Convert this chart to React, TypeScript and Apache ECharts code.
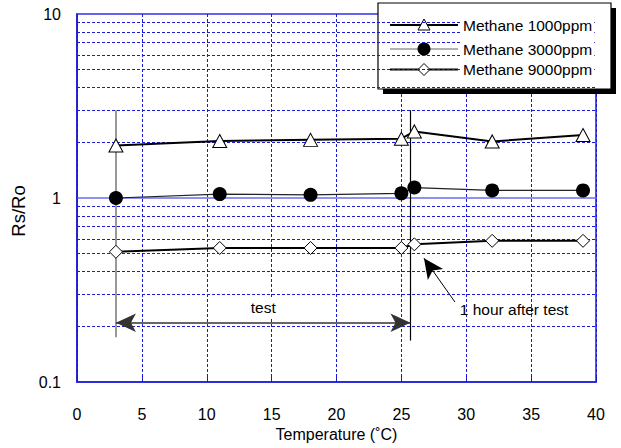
import React, { useEffect, useRef } from "react";
import * as echarts from "echarts";

const temps = [3, 11, 18, 25, 26, 32, 39];
const methane1000 = [1.93, 2.04, 2.07, 2.1, 2.3, 2.03, 2.2];
const methane3000 = [1.0, 1.05, 1.04, 1.06, 1.14, 1.1, 1.1];
const methane9000 = [0.51, 0.535, 0.535, 0.535, 0.56, 0.585, 0.585];
const seriesNames = ["Methane 1000ppm", "Methane 3000ppm", "Methane 9000ppm"];
const minorGridValues = [0.2, 0.3, 0.4, 0.5, 0.6, 0.7, 0.8, 0.9, 2, 3, 4, 5, 6, 7, 8, 9];
const yTickLabels: Record<string, string> = { "0.1": "0.1", "1": "1", "10": "10" };

const FONT = "'Liberation Sans', Arial, sans-serif";
const BLUE = "#1a1ad6";

function legendGraphics() {
  const rows = [25, 49, 69.5];
  const lx = 390;
  const lw = 68;
  const cx = 424;
  const els: any[] = [
    { type: "rect", z: 3, silent: true, shape: { x: 383, y: 8, width: 233, height: 86 }, style: { fill: "#000" } },
    {
      type: "rect",
      z: 3,
      silent: true,
      shape: { x: 378, y: 3, width: 233, height: 86 },
      style: { fill: "#fff", stroke: "#000", lineWidth: 1.2 },
    },
  ];
  const lineFills = ["#000", "#666", "#000"];
  const lineHeights = [2, 1.2, 2];
  rows.forEach((y, i) => {
    els.push({
      type: "rect",
      z: 4,
      silent: true,
      shape: { x: lx, y: y - lineHeights[i] / 2, width: lw, height: lineHeights[i] },
      style: { fill: lineFills[i] },
    });
    if (i === 0) {
      els.push({
        type: "polygon",
        z: 5,
        silent: true,
        shape: { points: [[cx, y - 6], [cx + 6, y + 5], [cx - 6, y + 5]] },
        style: { fill: "#fff", stroke: "#000", lineWidth: 1 },
      });
    } else if (i === 1) {
      els.push({ type: "circle", z: 5, silent: true, shape: { cx, cy: y, r: 6.5 }, style: { fill: "#000" } });
    } else {
      els.push({
        type: "polygon",
        z: 5,
        silent: true,
        shape: { points: [[cx, y - 6], [cx + 6, y], [cx, y + 6], [cx - 6, y]] },
        style: { fill: "#fff", stroke: "#000", lineWidth: 1 },
      });
    }
    els.push({
      type: "text",
      z: 10,
      silent: true,
      x: 462,
      y: y - 9,
      style: {
        text: seriesNames[i],
        fill: "#000",
        fontSize: 15.5,
        fontFamily: FONT,
        backgroundColor: "#fff",
        padding: [1, 2, 1, 1],
        verticalAlign: "top",
        align: "left",
      },
    });
  });
  return els;
}

export default function App() {
  const ref = useRef<HTMLDivElement>(null);
  useEffect(() => {
    if (!ref.current) return;
    const chart = echarts.init(ref.current, undefined, { renderer: "svg" });
    const pts = (vals: number[]) => temps.map((t, i) => [t, vals[i]]);
    chart.setOption({
      animation: false,
      backgroundColor: "#fff",
      textStyle: { fontFamily: FONT },
      grid: {
        left: 77,
        right: 25,
        top: 14,
        bottom: 66,
        show: true,
        borderColor: BLUE,
        borderWidth: 1.5,
        backgroundColor: "transparent",
      },
      graphic: legendGraphics(),
      xAxis: {
        type: "value",
        min: 0,
        max: 40,
        interval: 5,
        name: "Temperature (˚C)",
        nameLocation: "middle",
        nameGap: 42,
        nameTextStyle: { fontSize: 16, color: "#000", fontFamily: FONT },
        axisLine: { show: true, lineStyle: { color: BLUE, width: 1.5 } },
        axisTick: { show: true, inside: true, length: 5, lineStyle: { color: BLUE } },
        axisLabel: { fontSize: 16, color: "#000", margin: 24, fontFamily: FONT },
        splitLine: { show: true, lineStyle: { color: BLUE, type: [3, 2], width: 1 } },
      },
      yAxis: {
        type: "log",
        logBase: 10,
        min: 0.1,
        max: 10,
        name: "Rs/Ro",
        nameLocation: "middle",
        nameGap: 45,
        nameTextStyle: { fontSize: 18.5, color: "#000", fontFamily: FONT, padding: [0, 26, 0, 0] },
        axisLine: { show: true, lineStyle: { color: BLUE, width: 1.5 } },
        axisTick: { show: false },
        axisLabel: {
          fontSize: 16,
          color: "#000",
          margin: 16,
          fontFamily: FONT,
          formatter: (v: number) => yTickLabels[String(Math.round(v * 1000) / 1000)] ?? String(v),
        },
        splitLine: { show: true, lineStyle: { color: "#6b6bf0", width: 1.5 } },
      },
      series: [
        {
          name: "grid",
          type: "line",
          data: [],
          z: 1,
          silent: true,
          markLine: {
            silent: true,
            symbol: ["none", "none"],
            label: { show: false },
            lineStyle: { color: BLUE, type: [3, 2], width: 1 },
            emphasis: { disabled: true },
            data: minorGridValues.map((v) => ({ yAxis: v })),
          },
        },
        {
          name: "annotations",
          type: "line",
          data: [],
          z: 3,
          silent: true,
          markLine: {
            silent: true,
            symbol: ["none", "none"],
            symbolSize: [14, 20],
            label: { show: false },
            emphasis: { disabled: true },
            data: [
              [
                { coord: [3, 3], lineStyle: { color: "#777", width: 1.5, type: "solid" } },
                { coord: [3, 0.175] },
              ],
              [
                { coord: [25.7, 3], lineStyle: { color: "#000", width: 1.2, type: "solid" } },
                { coord: [25.7, 0.168] },
              ],
              [
                {
                  coord: [3, 0.21],
                  symbol: "arrow",
                  symbolSize: [14, 20],
                  lineStyle: { color: "#333", width: 1.5, type: "solid" },
                  label: {
                    show: true,
                    position: "middle",
                    formatter: "test",
                    backgroundColor: "#fff",
                    padding: [2, 11],
                    color: "#000",
                    fontSize: 15.5,
                    fontFamily: FONT,
                  },
                },
                { coord: [25.7, 0.21], symbol: "arrow", symbolSize: [14, 20] },
              ],
              [
                {
                  coord: [29.13, 0.272],
                  symbol: "none",
                  lineStyle: { color: "#000", width: 1, type: "solid" },
                },
                { coord: [26.74, 0.471], symbol: "arrow", symbolSize: [14, 20] },
              ],
            ],
          },
          markPoint: {
            silent: true,
            symbol: "circle",
            symbolSize: 0,
            data: [
              {
                coord: [29.5, 0.248],
                label: {
                  show: true,
                  position: "right",
                  distance: 0,
                  formatter: "1 hour after test",
                  color: "#000",
                  fontSize: 15.5,
                  fontFamily: FONT,
                },
              },
            ],
          },
        },
        {
          name: seriesNames[0],
          type: "line",
          z: 5,
          data: pts(methane1000),
          symbol: "triangle",
          symbolSize: [14, 13],
          itemStyle: { color: "#fff", borderColor: "#000", borderWidth: 1 },
          lineStyle: { color: "#000", width: 2 },
        },
        {
          name: seriesNames[1],
          type: "line",
          z: 5,
          data: pts(methane3000),
          symbol: "circle",
          symbolSize: 14,
          itemStyle: { color: "#000", borderColor: "#000", borderWidth: 0 },
          lineStyle: { color: "#222", width: 1.2 },
        },
        {
          name: seriesNames[2],
          type: "line",
          z: 5,
          data: pts(methane9000),
          symbol: "diamond",
          symbolSize: [13, 13],
          itemStyle: { color: "#fff", borderColor: "#000", borderWidth: 1 },
          lineStyle: { color: "#000", width: 2 },
        },
      ],
    });
    return () => chart.dispose();
  }, []);
  return <div ref={ref} style={{ position: "fixed", left: 0, top: 0, width: 621, height: 448 }} />;
}
